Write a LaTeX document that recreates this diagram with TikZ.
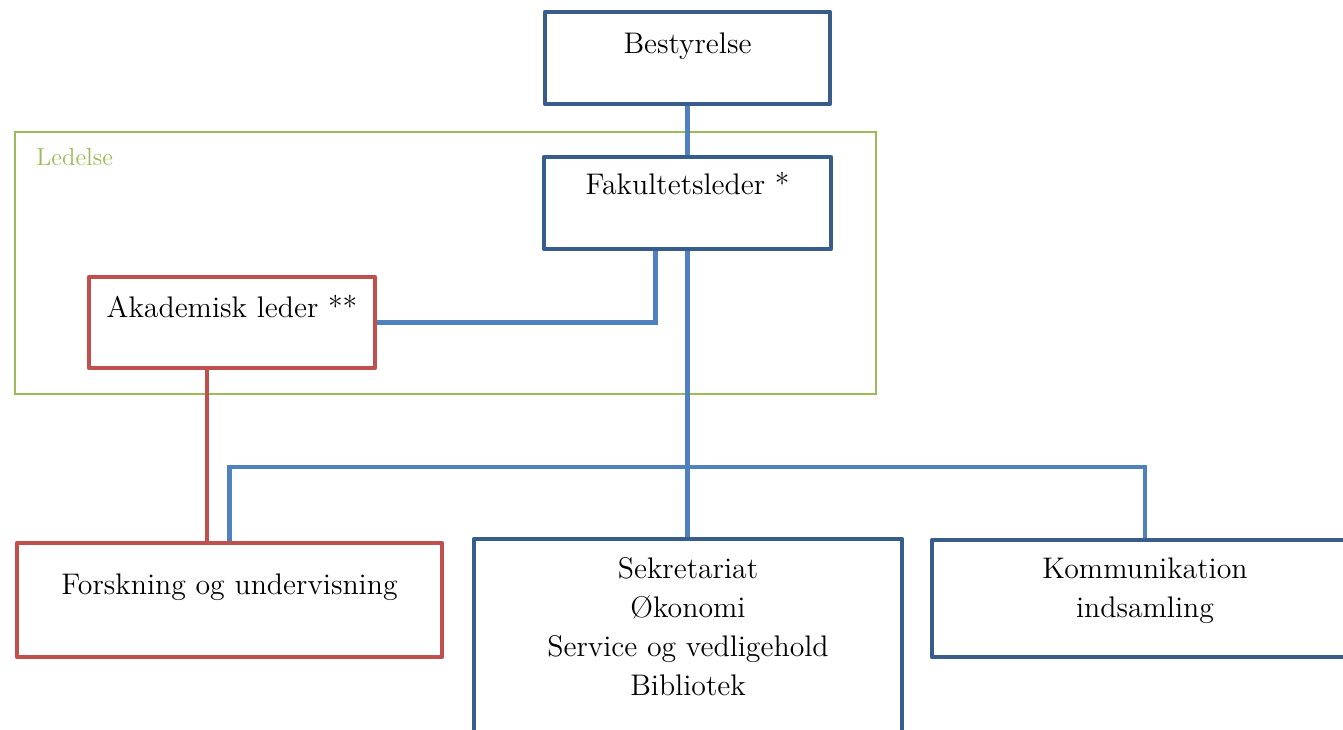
\documentclass[tikz,border=0pt]{standalone}
\usepackage{fontspec}
\usepackage{tikz}
\usepackage{xcolor}
\usetikzlibrary{calc,positioning}

\definecolor{boxblue}{HTML}{385D8A}
\definecolor{linkblue}{HTML}{4F81BD}
\definecolor{boxred}{HTML}{C0504D}
\definecolor{ledgreen}{HTML}{9BBB59}

\tikzset{
  orgbox/.style={draw=boxblue, line width=2.25pt, line join=round, inner sep=0pt,
    minimum width=#1, anchor=base, font=\fontsize{14.9}{19.5}\selectfont},
  redbox/.style={orgbox=#1, draw=boxred},
  link/.style={draw=linkblue, line width=2.2pt},
  redlink/.style={draw=boxred, line width=2.2pt},
  frame/.style={draw=ledgreen, line width=1.3pt}
}

\begin{document}
\begin{tikzpicture}[x=0.5pt, y=-0.5pt]
\useasboundingbox (0,0) rectangle (1343,729);
% ledelse group
\draw[frame] (15,132) rectangle (876,394);
\node[anchor=base west, inner sep=0pt, text=ledgreen, font=\fontsize{12.3}{15}\selectfont] (ledelse) at (36,165) {Ledelse};
% top boxes
\node[orgbox=142.5pt, text height=20.5pt, text depth=25.5pt] (best) at (687.5,53) {Bestyrelse};
\node[orgbox=143.5pt, text height=18.5pt, text depth=27.5pt] (fak) at (687.5,194) {Fakultetsleder *};
\node[redbox=143pt, text height=20pt, text depth=25.5pt] (akad) at (232,317) {Akademisk leder **};
% bottom row
\node[redbox=212.5pt, text height=25.5pt, text depth=31.5pt] (forsk) at (229.5,594) {Forskning og undervisning};
\node[orgbox=214pt, text height=19.5pt, text depth=81pt] (sekr) at (688,578)
  {\begin{tabular}[t]{@{}c@{}}Sekretariat\\Økonomi\\Service og vedligehold\\Bibliotek\end{tabular}};
\node[orgbox=213pt, text height=19pt, text depth=39.5pt] (komm) at (1145,578)
  {\begin{tabular}[t]{@{}c@{}}Kommunikation\\indsamling\end{tabular}};
\coordinate (bus) at (687.5,467);
% connectors
\draw[link] (best) -- (fak);
\draw[link] ([xshift=-16pt]fak.south) |- (akad.east);
\draw[link] (fak.south) -- (fak.south |- sekr.north);
\draw[link] (forsk.north) |- (bus) -| (komm.north);
\draw[redlink] ([xshift=-12.5pt]akad.south) -- ([xshift=-12.5pt]akad.south |- forsk.north);
\end{tikzpicture}
\end{document}
